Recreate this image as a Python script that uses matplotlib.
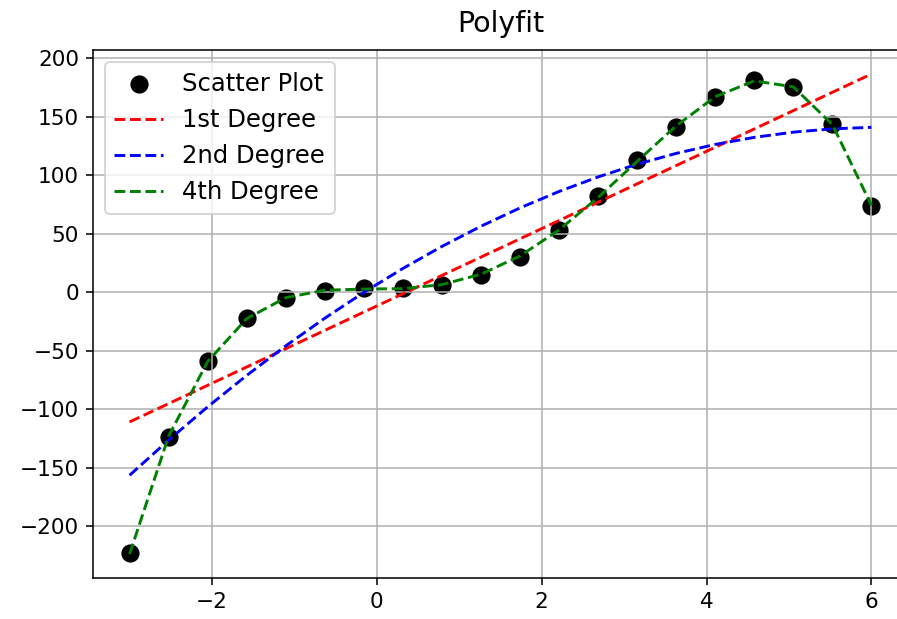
import numpy as np
import matplotlib
matplotlib.use("Agg")
import matplotlib.pyplot as plt
from matplotlib.ticker import MultipleLocator

# Sample positions and measured values
x = [-3.0, -2.526, -2.053, -1.579, -1.105, -0.632, -0.158, 0.316, 0.789, 1.263,
     1.737, 2.211, 2.684, 3.158, 3.632, 4.105, 4.579, 5.053, 5.526, 6.0]
y = [-223, -124, -59, -22, -5, 1, 4, 4, 6, 15,
     30, 53, 82, 113, 141, 167, 181, 175, 144, 74]

degrees = [1, 2, 4]
labels = ["1st Degree", "2nd Degree", "4th Degree"]
colors = ["r", "b", "g"]

xa = np.asarray(x)
ya = np.asarray(y)

fig = plt.figure(figsize=(897 / 140, 619 / 140), dpi=140)
ax = fig.add_axes([92.5 / 897, 41 / 619, 816 / 897, 528 / 619])

ax.scatter(xa, ya, color="black", s=70, label="Scatter Plot")
for deg, lab, col in zip(degrees, labels, colors):
    coeffs = np.polyfit(xa, ya, deg)
    ax.plot(xa, np.polyval(coeffs, xa), linestyle="--", color=col, label=lab)

ax.yaxis.set_major_locator(MultipleLocator(50))
ax.tick_params(labelsize=11.1)
ax.set_title("Polyfit", fontsize=14.7, pad=9)
ax.grid(True)
ax.legend(loc="upper left", fontsize=12.5)

fig.savefig("out.png", dpi=140)
